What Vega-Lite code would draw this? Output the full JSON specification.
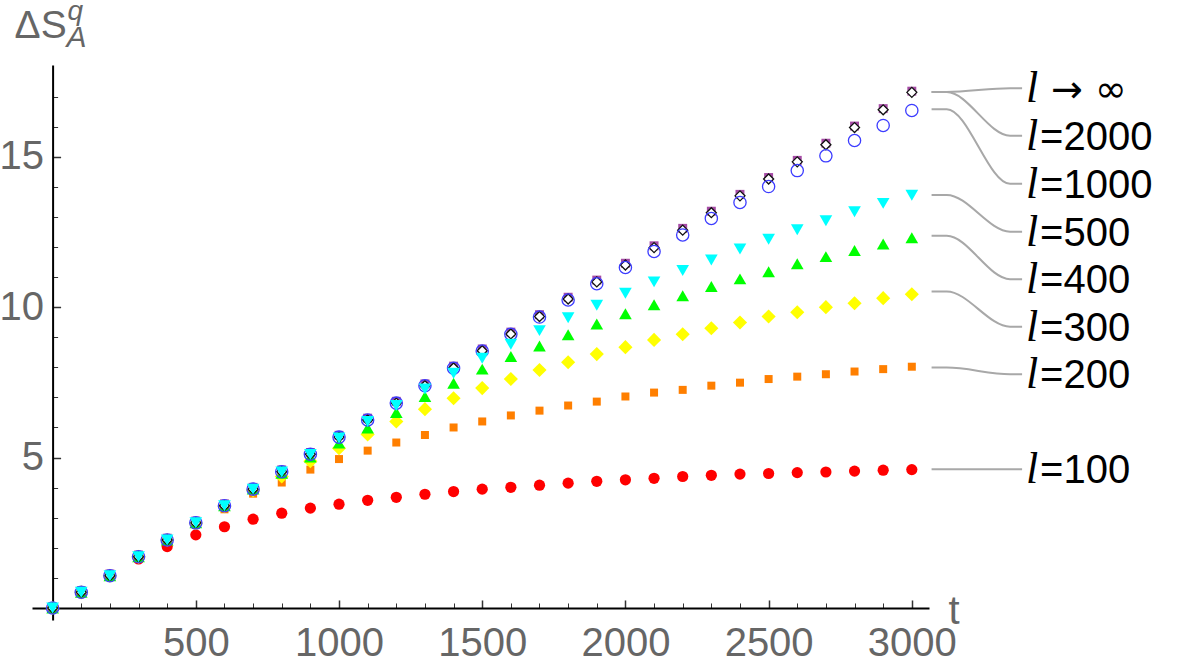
{
  "$schema": "https://vega.github.io/schema/vega-lite/v6.json",
  "width": 897,
  "height": 555,
  "autosize": "none",
  "padding": {"left": 32, "top": 65, "right": 271, "bottom": 45},
  "background": "white",
  "config": {"view": {"stroke": null}, "font": "Liberation Sans"},
  "datasets": {
    "curves": [
      {"t": 0, "l100": 0, "l200": 0, "l300": 0, "l400": 0, "l500": 0, "l1000": 0, "l2000": 0.04, "linf": 0},
      {"t": 100, "l100": 0.50, "l200": 0.52, "l300": 0.52, "l400": 0.52, "l500": 0.52, "l1000": 0.52, "l2000": 0.58, "linf": 0.52},
      {"t": 200, "l100": 1.05, "l200": 1.07, "l300": 1.07, "l400": 1.07, "l500": 1.07, "l1000": 1.07, "l2000": 1.13, "linf": 1.07},
      {"t": 300, "l100": 1.63, "l200": 1.69, "l300": 1.70, "l400": 1.70, "l500": 1.70, "l1000": 1.70, "l2000": 1.76, "linf": 1.70},
      {"t": 400, "l100": 2.04, "l200": 2.24, "l300": 2.26, "l400": 2.26, "l500": 2.26, "l1000": 2.26, "l2000": 2.32, "linf": 2.26},
      {"t": 500, "l100": 2.43, "l200": 2.76, "l300": 2.82, "l400": 2.83, "l500": 2.83, "l1000": 2.83, "l2000": 2.89, "linf": 2.83},
      {"t": 600, "l100": 2.70, "l200": 3.28, "l300": 3.38, "l400": 3.40, "l500": 3.40, "l1000": 3.40, "l2000": 3.46, "linf": 3.40},
      {"t": 700, "l100": 2.95, "l200": 3.80, "l300": 3.91, "l400": 3.95, "l500": 3.95, "l1000": 3.95, "l2000": 4.01, "linf": 3.95},
      {"t": 800, "l100": 3.15, "l200": 4.17, "l300": 4.37, "l400": 4.48, "l500": 4.52, "l1000": 4.53, "l2000": 4.59, "linf": 4.53},
      {"t": 900, "l100": 3.32, "l200": 4.60, "l300": 4.88, "l400": 5.02, "l500": 5.10, "l1000": 5.11, "l2000": 5.17, "linf": 5.11},
      {"t": 1000, "l100": 3.45, "l200": 4.95, "l300": 5.31, "l400": 5.48, "l500": 5.65, "l1000": 5.68, "l2000": 5.74, "linf": 5.68},
      {"t": 1100, "l100": 3.58, "l200": 5.23, "l300": 5.77, "l400": 5.98, "l500": 6.20, "l1000": 6.25, "l2000": 6.31, "linf": 6.25},
      {"t": 1200, "l100": 3.68, "l200": 5.50, "l300": 6.20, "l400": 6.50, "l500": 6.73, "l1000": 6.81, "l2000": 6.87, "linf": 6.81},
      {"t": 1300, "l100": 3.78, "l200": 5.75, "l300": 6.61, "l400": 7.03, "l500": 7.28, "l1000": 7.39, "l2000": 7.45, "linf": 7.39},
      {"t": 1400, "l100": 3.87, "l200": 6.00, "l300": 6.97, "l400": 7.47, "l500": 7.80, "l1000": 7.97, "l2000": 8.04, "linf": 7.98},
      {"t": 1500, "l100": 3.95, "l200": 6.20, "l300": 7.31, "l400": 7.94, "l500": 8.30, "l1000": 8.54, "l2000": 8.61, "linf": 8.55},
      {"t": 1600, "l100": 4.01, "l200": 6.40, "l300": 7.61, "l400": 8.36, "l500": 8.77, "l1000": 9.10, "l2000": 9.17, "linf": 9.11},
      {"t": 1700, "l100": 4.08, "l200": 6.56, "l300": 7.91, "l400": 8.71, "l500": 9.22, "l1000": 9.67, "l2000": 9.75, "linf": 9.69},
      {"t": 1800, "l100": 4.15, "l200": 6.73, "l300": 8.17, "l400": 9.08, "l500": 9.65, "l1000": 10.24, "l2000": 10.33, "linf": 10.27},
      {"t": 1900, "l100": 4.21, "l200": 6.86, "l300": 8.44, "l400": 9.44, "l500": 10.06, "l1000": 10.78, "l2000": 10.90, "linf": 10.84},
      {"t": 2000, "l100": 4.26, "l200": 7.03, "l300": 8.67, "l400": 9.78, "l500": 10.46, "l1000": 11.32, "l2000": 11.46, "linf": 11.40},
      {"t": 2100, "l100": 4.31, "l200": 7.16, "l300": 8.91, "l400": 10.08, "l500": 10.84, "l1000": 11.85, "l2000": 12.04, "linf": 11.98},
      {"t": 2200, "l100": 4.37, "l200": 7.25, "l300": 9.10, "l400": 10.38, "l500": 11.22, "l1000": 12.40, "l2000": 12.62, "linf": 12.56},
      {"t": 2300, "l100": 4.41, "l200": 7.39, "l300": 9.30, "l400": 10.69, "l500": 11.57, "l1000": 12.95, "l2000": 13.19, "linf": 13.14},
      {"t": 2400, "l100": 4.45, "l200": 7.49, "l300": 9.49, "l400": 10.94, "l500": 11.93, "l1000": 13.48, "l2000": 13.75, "linf": 13.70},
      {"t": 2500, "l100": 4.47, "l200": 7.61, "l300": 9.69, "l400": 11.18, "l500": 12.26, "l1000": 14.01, "l2000": 14.31, "linf": 14.26},
      {"t": 2600, "l100": 4.50, "l200": 7.69, "l300": 9.83, "l400": 11.44, "l500": 12.57, "l1000": 14.54, "l2000": 14.88, "linf": 14.83},
      {"t": 2700, "l100": 4.52, "l200": 7.77, "l300": 10.00, "l400": 11.68, "l500": 12.87, "l1000": 15.03, "l2000": 15.45, "linf": 15.40},
      {"t": 2800, "l100": 4.55, "l200": 7.86, "l300": 10.13, "l400": 11.88, "l500": 13.17, "l1000": 15.54, "l2000": 16.02, "linf": 15.97},
      {"t": 2900, "l100": 4.58, "l200": 7.94, "l300": 10.30, "l400": 12.10, "l500": 13.45, "l1000": 16.04, "l2000": 16.60, "linf": 16.56},
      {"t": 3000, "l100": 4.60, "l200": 8.02, "l300": 10.43, "l400": 12.31, "l500": 13.72, "l1000": 16.54, "l2000": 17.18, "linf": 17.14}
    ],
    "connectors": [
      {"key": "linf", "cx": 3069, "cy": 17.15}, {"key": "linf", "cx": 3122, "cy": 17.15}, {"key": "linf", "cx": 3343, "cy": 17.28}, {"key": "linf", "cx": 3385, "cy": 17.28},
      {"key": "l2000", "cx": 3069, "cy": 17.15}, {"key": "l2000", "cx": 3122, "cy": 17.15}, {"key": "l2000", "cx": 3343, "cy": 15.70}, {"key": "l2000", "cx": 3385, "cy": 15.70},
      {"key": "l1000", "cx": 3069, "cy": 16.58}, {"key": "l1000", "cx": 3122, "cy": 16.58}, {"key": "l1000", "cx": 3343, "cy": 14.10}, {"key": "l1000", "cx": 3385, "cy": 14.10},
      {"key": "l500", "cx": 3069, "cy": 13.73}, {"key": "l500", "cx": 3122, "cy": 13.73}, {"key": "l500", "cx": 3343, "cy": 12.51}, {"key": "l500", "cx": 3385, "cy": 12.51},
      {"key": "l400", "cx": 3069, "cy": 12.37}, {"key": "l400", "cx": 3122, "cy": 12.37}, {"key": "l400", "cx": 3343, "cy": 10.93}, {"key": "l400", "cx": 3385, "cy": 10.93},
      {"key": "l300", "cx": 3069, "cy": 10.52}, {"key": "l300", "cx": 3122, "cy": 10.52}, {"key": "l300", "cx": 3343, "cy": 9.35}, {"key": "l300", "cx": 3385, "cy": 9.35},
      {"key": "l200", "cx": 3069, "cy": 7.99}, {"key": "l200", "cx": 3122, "cy": 7.99}, {"key": "l200", "cx": 3343, "cy": 7.77}, {"key": "l200", "cx": 3385, "cy": 7.77},
      {"key": "l100", "cx": 3069, "cy": 4.61}, {"key": "l100", "cx": 3122, "cy": 4.61}, {"key": "l100", "cx": 3343, "cy": 4.61}, {"key": "l100", "cx": 3385, "cy": 4.61}
    ],
    "labels": [
      {"key": "linf", "ly": 17.28, "rest": "→ ∞"},
      {"key": "l2000", "ly": 15.70, "rest": "=2000"},
      {"key": "l1000", "ly": 14.10, "rest": "=1000"},
      {"key": "l500", "ly": 12.51, "rest": "=500"},
      {"key": "l400", "ly": 10.93, "rest": "=400"},
      {"key": "l300", "ly": 9.35, "rest": "=300"},
      {"key": "l200", "ly": 7.77, "rest": "=200"},
      {"key": "l100", "ly": 4.61, "rest": "=100"}
    ]
  },
  "layer": [
    {
      "data": {"name": "connectors"},
      "mark": {"type": "line", "interpolate": "monotone", "color": "#a8a8a8", "strokeWidth": 2},
      "encoding": {
        "x": {"field": "cx", "type": "quantitative", "scale": {"domain": [-72, 3060], "nice": false, "zero": false},
          "axis": {"orient": "bottom", "offset": -12.03, "values": [100,200,300,400,600,700,800,900,1100,1200,1300,1400,1600,1700,1800,1900,2100,2200,2300,2400,2600,2700,2800,2900],
            "tickSize": -5, "tickWidth": 1, "tickColor": "#333", "labels": false, "domain": false, "grid": false, "title": null}},
        "y": {"field": "cy", "type": "quantitative", "scale": {"domain": [-0.4, 18.05], "nice": false, "zero": false},
          "axis": {"orient": "left", "offset": -20.6, "values": [1,2,3,4,6,7,8,9,11,12,13,14,16,17],
            "tickSize": -5, "tickWidth": 1, "tickColor": "#333", "labels": false, "domain": false, "grid": false, "title": null}},
        "detail": {"field": "key", "type": "nominal"}
      }
    },
    {
      "data": {"name": "curves"},
      "transform": [{"fold": ["l100", "l200", "l300", "l400", "l2000", "linf", "l1000", "l500"], "as": ["key", "value"]}],
      "mark": {"type": "point", "filled": true, "opacity": 1, "strokeWidth": 1.3},
      "encoding": {
        "x": {"field": "t", "type": "quantitative", "scale": {"domain": [-72, 3060], "nice": false, "zero": false},
          "axis": {"orient": "bottom", "offset": -12.03, "values": [500, 1000, 1500, 2000, 2500, 3000], "format": "d",
            "tickSize": -8, "tickWidth": 1.5, "tickColor": "#333", "domainColor": "#000", "domainWidth": 2,
            "labelFontSize": 40, "labelColor": "#666", "labelFont": "Liberation Sans", "labelPadding": 24,
            "labelFlush": false, "labelOverlap": false, "grid": false,
            "title": "t", "titleFontSize": 40, "titleColor": "#666", "titleFont": "Liberation Sans", "titleFontWeight": "normal",
            "titleX": 916, "titleY": 16, "titleAlign": "left", "titleBaseline": "alphabetic", "titleAngle": 0}},
        "y": {"field": "value", "type": "quantitative", "scale": {"domain": [-0.4, 18.05], "nice": false, "zero": false},
          "axis": {"orient": "left", "offset": -20.6, "values": [5, 10, 15],
            "tickSize": -8, "tickWidth": 1.5, "tickColor": "#333", "domainColor": "#000", "domainWidth": 2,
            "labelFontSize": 40, "labelColor": "#666", "labelFont": "Liberation Sans", "labelPadding": 17,
            "labelFlush": false, "labelOverlap": false, "grid": false, "title": null}},
        "shape": {"field": "key", "type": "nominal", "legend": null,
          "scale": {"domain": ["l100", "l200", "l300", "l400", "l500", "l1000", "l2000", "linf"],
            "range": ["circle", "square", "diamond", "triangle-up", "triangle-down", "circle", "square", "diamond"]}},
        "fill": {"field": "key", "type": "nominal", "legend": null,
          "scale": {"domain": ["l100", "l200", "l300", "l400", "l500", "l1000", "l2000", "linf"],
            "range": ["#ff0000", "#ff7f00", "#ffff00", "#00ff00", "#00ffff", "transparent", "#a64ca6", "#ffffff"]}},
        "stroke": {"field": "key", "type": "nominal", "legend": null,
          "scale": {"domain": ["l100", "l200", "l300", "l400", "l500", "l1000", "l2000", "linf"],
            "range": ["transparent", "transparent", "transparent", "transparent", "transparent", "#3c3cff", "transparent", "#111111"]}},
        "size": {"field": "key", "type": "nominal", "legend": null,
          "scale": {"type": "ordinal", "domain": ["l100", "l200", "l300", "l400", "l500", "l1000", "l2000", "linf"],
            "range": [126, 64, 200, 160, 160, 150, 80, 100]}}
      }
    },
    {
      "data": {"name": "labels"},
      "mark": {"type": "text", "font": "Liberation Serif", "fontStyle": "italic", "fontSize": 44, "align": "left", "baseline": "alphabetic", "dy": 14, "color": "#000"},
      "encoding": {
        "x": {"datum": 3399, "type": "quantitative", "axis": null},
        "y": {"field": "ly", "type": "quantitative", "axis": null},
        "text": {"value": "l"}
      }
    },
    {
      "data": {"name": "labels"},
      "transform": [{"filter": "datum.key !== 'linf'"}],
      "mark": {"type": "text", "font": "Liberation Sans", "fontSize": 40, "align": "left", "baseline": "alphabetic", "dx": 14, "dy": 14, "color": "#000"},
      "encoding": {
        "x": {"datum": 3399, "type": "quantitative", "axis": null},
        "y": {"field": "ly", "type": "quantitative", "axis": null},
        "text": {"field": "rest", "type": "nominal"}
      }
    },
    {
      "data": {"name": "labels"},
      "transform": [{"filter": "datum.key === 'linf'"}],
      "mark": {"type": "text", "font": "DejaVu Sans", "fontSize": 38, "align": "left", "baseline": "alphabetic", "dx": 25, "dy": 14, "color": "#000"},
      "encoding": {
        "x": {"datum": 3399, "type": "quantitative", "axis": null},
        "y": {"field": "ly", "type": "quantitative", "axis": null},
        "text": {"field": "rest", "type": "nominal"}
      }
    },
    {
      "data": {"values": [{}]},
      "mark": {"type": "text", "font": "Liberation Sans", "fontSize": 39, "align": "left", "baseline": "alphabetic", "dx": -38, "dy": -27, "color": "#666"},
      "encoding": {
        "x": {"datum": 0, "type": "quantitative", "axis": null},
        "y": {"datum": 18.05, "type": "quantitative", "axis": null},
        "text": {"value": "ΔS"}
      }
    },
    {
      "data": {"values": [{}]},
      "mark": {"type": "text", "font": "Liberation Sans", "fontStyle": "italic", "fontSize": 28, "align": "left", "baseline": "alphabetic", "dx": 15, "dy": -45, "color": "#666"},
      "encoding": {
        "x": {"datum": 0, "type": "quantitative", "axis": null},
        "y": {"datum": 18.05, "type": "quantitative", "axis": null},
        "text": {"value": "q"}
      }
    },
    {
      "data": {"values": [{}]},
      "mark": {"type": "text", "font": "Liberation Sans", "fontStyle": "italic", "fontSize": 30, "align": "left", "baseline": "alphabetic", "dx": 14, "dy": -18, "color": "#666"},
      "encoding": {
        "x": {"datum": 0, "type": "quantitative", "axis": null},
        "y": {"datum": 18.05, "type": "quantitative", "axis": null},
        "text": {"value": "A"}
      }
    }
  ],
  "resolve": {"axis": {"x": "independent", "y": "independent"}}
}
